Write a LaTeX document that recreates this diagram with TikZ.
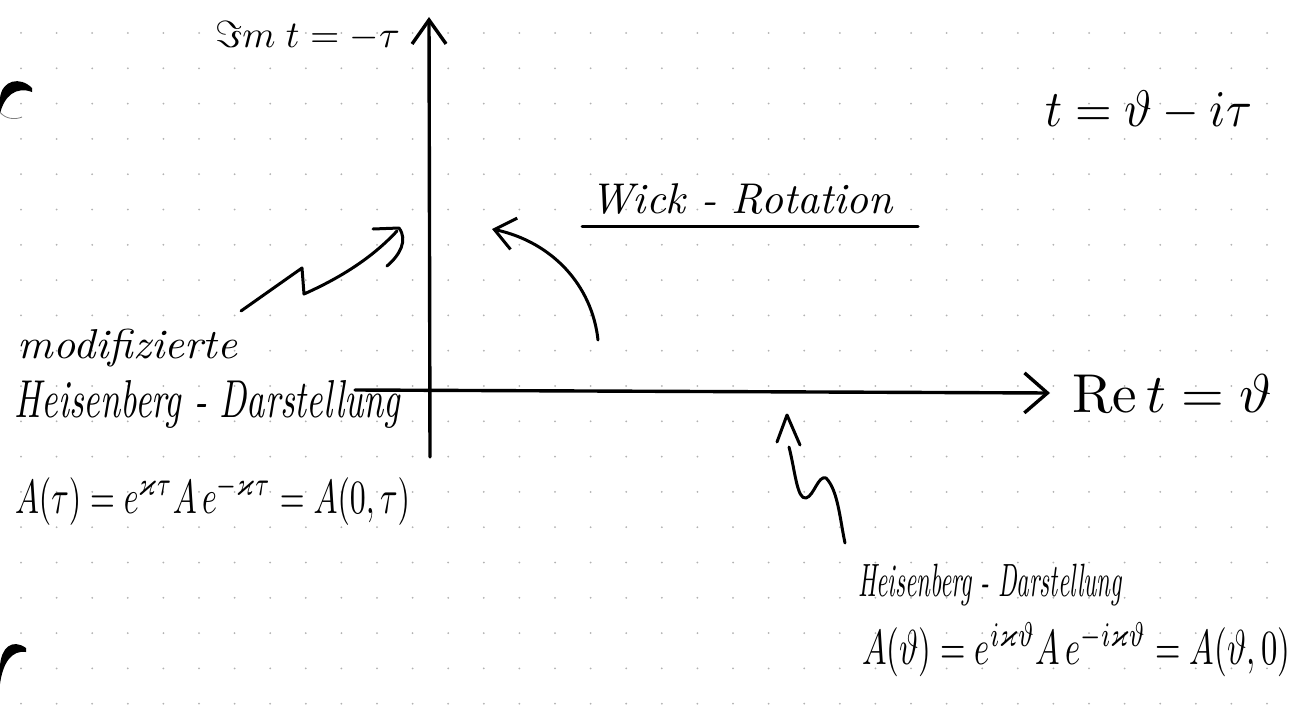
\documentclass[tikz,border=0pt]{standalone}
\usepackage{amssymb}
\usetikzlibrary{arrows.meta}
\newcommand{\fitw}[2]{\resizebox{#1}{!}{#2}}
\newcommand{\fitwh}[3]{\resizebox*{#1}{#2}{#3}}
\begin{document}
\begin{tikzpicture}[x=1pt,y=-1pt,
  ink/.style={line width=3pt, line cap=round, line join=round},
  axisline/.style={line width=3.4pt, line cap=round},
  lbl/.style={inner sep=0pt, outer sep=0pt},
  gdot/.style={fill=gray!60}]
\useasboundingbox (0,0) rectangle (1298,709);
\fill[white] (0,0) rectangle (1298,709);
% dotted grid of the paper
\foreach \i in {0,...,36} {\foreach \j in {0,...,19} {\fill[gdot] ({21+35.6*\i},{33+35.3*\j}) circle (1pt);}}
% punch marks
\fill (32,88) .. controls (20,76) and (2,80) .. (0,98) -- (0,114) .. controls (4,96) and (16,86) .. (32,92) -- cycle;
\draw[gray, line width=0.8pt] (0,112) .. controls (5,119) and (15,120) .. (22,117);
\fill (26,648) .. controls (12,638) and (1,648) .. (0,666) -- (0,684) .. controls (3,662) and (12,650) .. (26,652) -- cycle;
% labels
\node[lbl, anchor=base west] (imlab) at (215,48) {\fitw{185pt}{$\Im m\; t = -\tau$}};
\node[lbl, anchor=base west] (tdef) at (1045,126) {\fitwh{207pt}{40pt}{$t = \vartheta - i\tau$}};
\node[lbl, anchor=base west] (wick) at (590,213) {\fitw{303pt}{\itshape Wick - Rotation}};
\node[lbl, anchor=base west] (retlab) at (1072,412) {\fitwh{200pt}{38pt}{$\mathrm{Re}\,t = \vartheta$}};
\node[lbl, anchor=base west] (modif) at (18,358) {\fitwh{219pt}{38pt}{\itshape modifizierte}};
\node[lbl, anchor=base west] (heisL) at (15,417) {\fitwh{385pt}{48pt}{\itshape Heisenberg - Darstellung}};
\node[lbl, anchor=base west] (formL) at (15,513) {\fitwh{395pt}{50pt}{$A(\tau) = e^{\varkappa\tau} A\, e^{-\varkappa\tau} = A(0,\tau)$}};
\node[lbl, anchor=base west] (heisR) at (858,596) {\fitwh{264pt}{42pt}{\itshape Heisenberg - Darstellung}};
\node[lbl, anchor=base west] (formR) at (862,664) {\fitwh{428pt}{54pt}{$A(\vartheta) = e^{i\varkappa\vartheta} A\, e^{-i\varkappa\vartheta} = A(\vartheta,0)$}};
% underline
\coordinate (ulA) at (582,226);
\coordinate (ulB) at (918,226);
\draw[ink] (ulA) -- (ulB);
% axes
\coordinate (vbot) at (430,457);
\coordinate (vtop) at (429,17);
\coordinate (hleft) at (355,390);
\coordinate (hright) at (1050,393);
\draw[axisline, -{Straight Barb[length=24pt,width=34pt]}] (vbot) -- (vtop);
\draw[axisline, -{Straight Barb[length=23pt,width=40pt]}] (hleft) -- (hright);
% Wick rotation arrow
\coordinate (wA) at (598,340);
\coordinate (wB) at (492,229);
\draw[ink, -{Straight Barb[length=20pt,width=32pt]}] (wA) .. controls (592,285) and (552,242) .. (wB);
% lightning to the modified Heisenberg picture
\coordinate (mzA) at (241,311);
\coordinate (mzB) at (397,231);
\draw[ink] (mzA) -- (302,268) -- (304,294) .. controls (340,278) and (372,258) .. (mzB);
\draw[ink] (373,229) -- (399,228) .. controls (408,240) and (400,255) .. (387,266);
% lightning to the Heisenberg picture
\coordinate (hzTip) at (787,415);
\coordinate (hzEnd) at (845,543);
\draw[ink] (777,442) -- (hzTip) -- (800,445);
\draw[ink] (789,447) .. controls (795,470) and (797,500) .. (806,498) .. controls (814,496) and (818,475) .. (826,478) .. controls (838,490) and (840,520) .. (hzEnd);
\end{tikzpicture}
\end{document}
